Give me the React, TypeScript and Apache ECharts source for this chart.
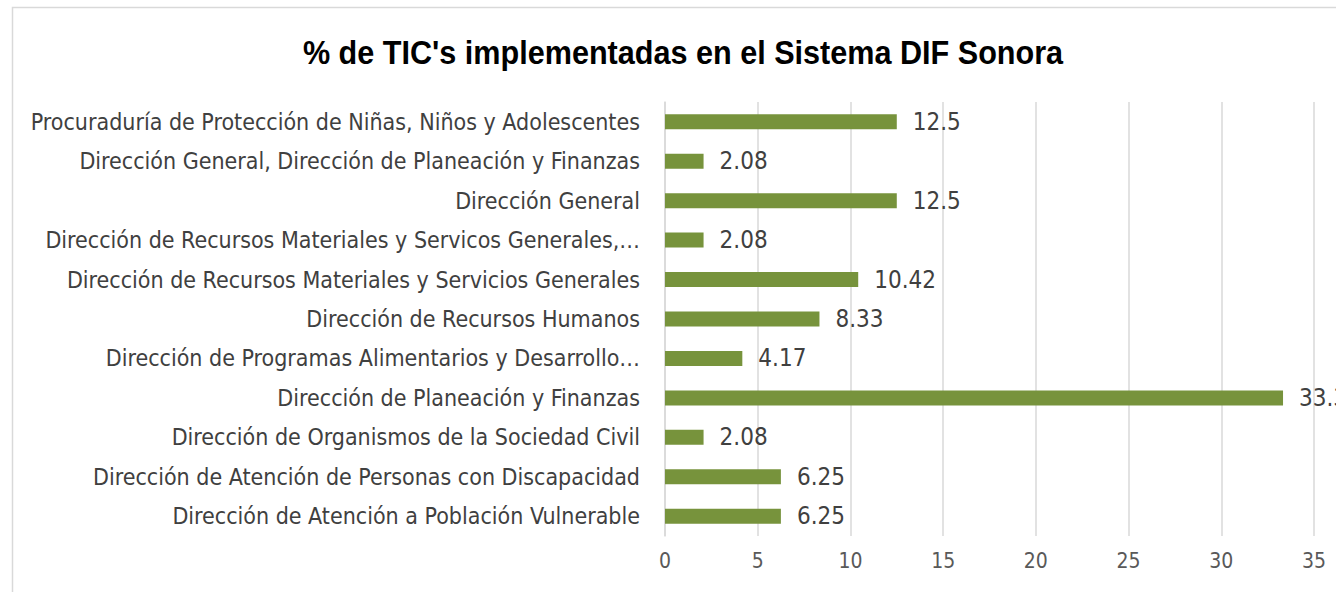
import React, { useEffect, useRef } from "react";
import * as echarts from "echarts";

const categories = [
  "Dirección de Atención a Población Vulnerable",
  "Dirección de Atención de Personas con Discapacidad",
  "Dirección de Organismos de la Sociedad Civil",
  "Dirección de Planeación y Finanzas",
  "Dirección de Programas Alimentarios y Desarrollo…",
  "Dirección de Recursos Humanos",
  "Dirección de Recursos Materiales y Servicios Generales",
  "Dirección de Recursos Materiales y Servicos Generales,…",
  "Dirección General",
  "Dirección General, Dirección de Planeación y Finanzas",
  "Procuraduría de Protección de Niñas, Niños y Adolescentes",
];
const values = [6.25, 6.25, 2.08, 33.33, 4.17, 8.33, 10.42, 2.08, 12.5, 2.08, 12.5];
const xTicks = [0, 5, 10, 15, 20, 25, 30, 35];
const title = "% de TIC's implementadas en el Sistema DIF Sonora";

const FONT = "'Liberation Sans Narrow', 'Arial Narrow', 'DejaVu Sans Condensed', sans-serif";
const TITLE_FONT = "bold 34px 'Liberation Sans', Arial, sans-serif";

export default function App() {
  const ref = useRef<HTMLDivElement>(null);
  useEffect(() => {
    if (!ref.current) return;
    let titleScale = 0.82;
    try {
      const ctx = document.createElement("canvas").getContext("2d");
      if (ctx) {
        ctx.font = TITLE_FONT;
        const w = ctx.measureText(title).width;
        if (w > 0) titleScale = 761 / w;
      }
    } catch (e) {}
    const chart = echarts.init(ref.current, undefined, { renderer: "svg" });
    chart.setOption({
      animation: false,
      backgroundColor: "#ffffff",
      graphic: [
        {
          type: "rect",
          shape: { x: 12.5, y: 7.5, width: 1400, height: 700 },
          style: { fill: "none", stroke: "#d9d9d9", lineWidth: 1.5 },
          z: 0,
        },
        {
          type: "text",
          x: 683,
          y: 52,
          scaleX: titleScale,
          style: {
            text: title,
            font: TITLE_FONT,
            fill: "#000000",
            align: "center",
            verticalAlign: "middle",
          },
        },
      ],
      grid: { left: 665, right: 22, top: 102, bottom: 56, containLabel: false },
      xAxis: {
        type: "value",
        min: xTicks[0],
        max: xTicks[xTicks.length - 1],
        interval: 5,
        axisLine: { show: false },
        axisTick: { show: false },
        splitLine: { show: true, lineStyle: { color: "#d9d9d9", width: 1.5 } },
        axisLabel: { color: "#595959", fontSize: 21, fontFamily: FONT, margin: 14 },
      },
      yAxis: {
        type: "category",
        data: categories,
        axisLine: { show: true, lineStyle: { color: "#d9d9d9", width: 1.5 } },
        axisTick: { show: false },
        axisLabel: { color: "#404040", fontSize: 23, fontFamily: FONT, margin: 25 },
      },
      series: [
        {
          type: "bar",
          data: values,
          barWidth: 15,
          itemStyle: { color: "#77933C" },
          label: {
            show: true,
            position: "right",
            distance: 16,
            color: "#404040",
            fontSize: 24,
            fontFamily: FONT,
          },
        },
      ],
    });
    return () => chart.dispose();
  }, []);
  return (
    <div
      ref={ref}
      style={{ position: "fixed", left: 0, top: 0, width: 1336, height: 592 }}
    />
  );
}
